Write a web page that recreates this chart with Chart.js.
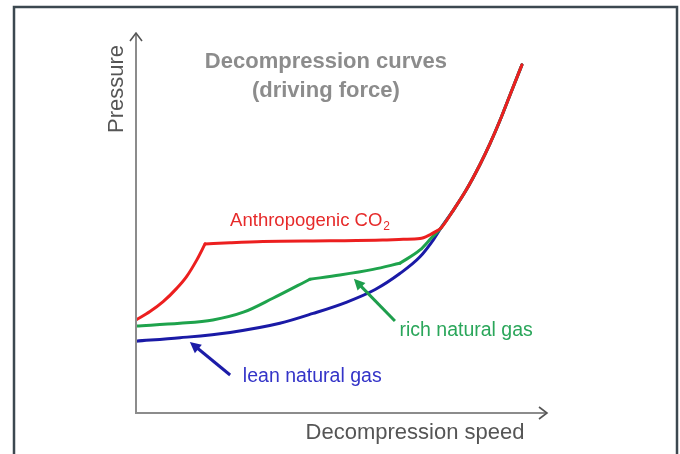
<!DOCTYPE html>
<html lang="en">
<head>
    <meta charset="UTF-8">
    <title>Decompression curves</title>
    <script src="https://cdn.jsdelivr.net/npm/chart.js"></script>
    <style>
        body { margin: 0; background: #fff; }
    </style>
</head>
<body>
    <canvas id="chart" width="680" height="454"></canvas>

    <script>
        // data (relative units, 0..100)
        const co2Speed  = [0, 3.4, 6.6, 9.9, 12.3, 14.8, 16.8, 22.9, 30.9, 47.2, 60.0, 65.0, 69.1, 71.5, 73.0, 74.2, 77.1, 80.3, 83.7, 86.1, 88.6, 91.0, 93.9];
        const co2Press  = [24.5, 26.7, 29.3, 32.8, 35.9, 40.3, 44.5, 44.8, 45.1, 45.3, 45.5, 45.7, 45.9, 46.9, 47.8, 48.7, 53.2, 58.6, 65.4, 70.8, 77.1, 83.7, 91.6];
        const richSpeed = [0, 10.7, 18.7, 26.3, 33.3, 42.3, 49.6, 57.7, 64.2, 69.1, 71.9, 74.2, 77.1, 80.3, 83.7, 86.1, 88.6, 91.0, 93.9];
        const richPress = [22.9, 23.6, 24.5, 26.6, 30.2, 35.2, 36.3, 37.8, 39.4, 42.9, 46.1, 48.7, 53.2, 58.6, 65.4, 70.8, 77.1, 83.7, 91.6];
        const leanSpeed = [0, 10.7, 22.9, 35.0, 43.1, 51.3, 58.2, 64.2, 69.1, 72.3, 74.2, 77.1, 80.3, 83.7, 86.1, 88.6, 91.0, 93.9];
        const leanPress = [18.9, 19.8, 21.2, 23.6, 26.2, 29.2, 32.5, 36.7, 41.1, 45.5, 48.7, 53.2, 58.6, 65.4, 70.8, 77.1, 83.7, 91.6];

        // indices of the sharp bends in each curve
        const co2Bends  = [6];
        const richBends = [5, 8];
        const leanBends = [];

        const seriesNames  = ['Anthropogenic CO2', 'rich natural gas', 'lean natural gas'];
        const seriesColors = ['#ec1f1f', '#1ea34c', '#1a1aa6'];

        // split a curve at its bends so each piece is smoothed on its own
        function pieces(xs, ys, bends) {
            const cuts = [0].concat(bends, [xs.length - 1]);
            const out = [];
            for (let i = 0; i < cuts.length - 1; i++) {
                const pts = [];
                for (let j = cuts[i]; j <= cuts[i + 1]; j++) pts.push({ x: xs[j], y: ys[j] });
                out.push(pts);
            }
            return out;
        }

        const datasets = [];
        [[co2Speed, co2Press, co2Bends], [richSpeed, richPress, richBends], [leanSpeed, leanPress, leanBends]]
            .forEach((s, k) => {
                pieces(s[0], s[1], s[2]).forEach(pts => {
                    datasets.push({
                        label: seriesNames[k],
                        data: pts,
                        borderColor: seriesColors[k],
                        order: k + 1
                    });
                });
            });

        // text notes and arrows, in data units
        const notes = [
            { text: 'Decompression curves', x: 46.2, y: 92.4, color: '#8c8c8c', font: 'bold 22px "Liberation Sans"', align: 'center' },
            { text: '(driving force)', x: 46.2, y: 84.7, color: '#8c8c8c', font: 'bold 22px "Liberation Sans"', align: 'center' },
            { text: 'rich natural gas', x: 64.1, y: 21.6, color: '#2aa65a', font: '19.5px "Liberation Sans"', align: 'left' },
            { text: 'lean natural gas', x: 26.0, y: 9.5, color: '#3434c8', font: '19.5px "Liberation Sans"', align: 'left' }
        ];
        const pointers = [
            { from: [63.0, 24.2], to: [53.0, 35.3], color: '#1e9e4c' },
            { from: [22.9, 10.0], to: [13.1, 18.7], color: '#1c1ca8' }
        ];

        function arrowHead(ctx, tx, ty, ang, len, wid) {
            ctx.beginPath();
            ctx.moveTo(tx, ty);
            ctx.lineTo(tx - len * Math.cos(ang) + wid * Math.sin(ang), ty - len * Math.sin(ang) - wid * Math.cos(ang));
            ctx.lineTo(tx - len * Math.cos(ang) - wid * Math.sin(ang), ty - len * Math.sin(ang) + wid * Math.cos(ang));
            ctx.closePath();
            ctx.fill();
        }

        const drawing = {
            id: 'drawing',
            beforeDraw(chart) {
                const ctx = chart.ctx;
                ctx.save();
                ctx.fillStyle = '#fff';
                ctx.fillRect(0, 0, chart.width, chart.height);
                // frame
                ctx.strokeStyle = '#3c4850';
                ctx.lineWidth = 2.5;
                ctx.strokeRect(14, 7, 663, 470);
                ctx.restore();
            },
            afterDatasetsDraw(chart) {
                const ctx = chart.ctx;
                const xs = chart.scales.x, ys = chart.scales.y;
                const a = chart.chartArea;
                ctx.save();

                // axes with open arrow heads
                ctx.strokeStyle = '#8c8c8c';
                ctx.lineWidth = 2;
                ctx.beginPath();
                ctx.moveTo(a.left, a.top);
                ctx.lineTo(a.left, a.bottom);
                ctx.lineTo(a.right, a.bottom);
                ctx.stroke();
                ctx.strokeStyle = '#555';
                ctx.lineWidth = 1.6;
                ctx.beginPath();
                ctx.moveTo(a.left - 6, a.top + 8);
                ctx.lineTo(a.left, a.top);
                ctx.lineTo(a.left + 6, a.top + 8);
                ctx.moveTo(a.right - 8, a.bottom - 6);
                ctx.lineTo(a.right, a.bottom);
                ctx.lineTo(a.right - 8, a.bottom + 6);
                ctx.stroke();

                // axis titles
                ctx.fillStyle = '#555';
                ctx.font = '22px "Liberation Sans"';
                ctx.textAlign = 'center';
                ctx.textBaseline = 'middle';
                ctx.fillText('Decompression speed', 415, 433);
                ctx.save();
                ctx.translate(117, 89);
                ctx.rotate(-Math.PI / 2);
                ctx.fillText('Pressure', 0, 0);
                ctx.restore();

                // notes
                notes.forEach(n => {
                    ctx.fillStyle = n.color;
                    ctx.font = n.font;
                    ctx.textAlign = n.align;
                    ctx.fillText(n.text, xs.getPixelForValue(n.x), ys.getPixelForValue(n.y));
                });

                // CO2 label with subscript
                const cx = xs.getPixelForValue(22.9), cy = ys.getPixelForValue(50.5);
                ctx.fillStyle = '#e62a2a';
                ctx.textAlign = 'left';
                ctx.font = '18.5px "Liberation Sans"';
                ctx.fillText('Anthropogenic CO', cx, cy);
                const w = ctx.measureText('Anthropogenic CO').width;
                ctx.font = '12px "Liberation Sans"';
                ctx.fillText('2', cx + w + 1, cy + 6);

                // pointer arrows
                pointers.forEach(p => {
                    const x0 = xs.getPixelForValue(p.from[0]), y0 = ys.getPixelForValue(p.from[1]);
                    const x1 = xs.getPixelForValue(p.to[0]), y1 = ys.getPixelForValue(p.to[1]);
                    const ang = Math.atan2(y1 - y0, x1 - x0);
                    ctx.strokeStyle = p.color;
                    ctx.fillStyle = p.color;
                    ctx.lineWidth = 3;
                    ctx.beginPath();
                    ctx.moveTo(x0, y0);
                    ctx.lineTo(x1 - 8 * Math.cos(ang), y1 - 8 * Math.sin(ang));
                    ctx.stroke();
                    arrowHead(ctx, x1, y1, ang, 11, 5.5);
                });

                ctx.restore();
            }
        };

        const ctx = document.getElementById('chart').getContext('2d');
        new Chart(ctx, {
            type: 'line',
            data: { datasets: datasets },
            options: {
                responsive: false,
                animation: false,
                layout: { padding: { left: 136, right: 133, top: 33, bottom: 41 } },
                elements: {
                    point: { radius: 0 },
                    line: { borderWidth: 3, cubicInterpolationMode: 'monotone', fill: false, borderCapStyle: 'round' }
                },
                scales: {
                    x: { type: 'linear', min: 0, max: 100, display: false },
                    y: { min: 0, max: 100, display: false }
                },
                plugins: {
                    legend: { display: false },
                    tooltip: { enabled: false }
                }
            },
            plugins: [drawing]
        });
    </script>
</body>
</html>
